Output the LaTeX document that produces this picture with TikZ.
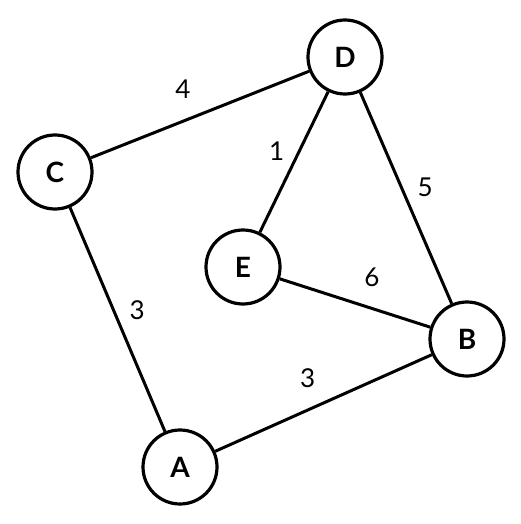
\documentclass[tikz,border=0pt]{standalone}
\usepackage{fontspec}
\setmainfont{Lato}
\tikzset{
  graph vertex/.style={circle,draw=black,line width=3.2pt,fill=white,
    minimum size=74pt,inner sep=0pt,font=\fontsize{28}{30}\selectfont\bfseries},
  graph edge/.style={line width=3pt,draw=black},
  graph weight/.style={font=\fontsize{26}{30}\selectfont,inner sep=0pt}
}

\begin{document}
\begin{tikzpicture}[x=1pt,y=-1pt]
  \useasboundingbox (0,0) rectangle (521,524);
  \node[graph vertex] (D) at (345,57) {D};
  \node[graph vertex] (C) at (55,172) {C};
  \node[graph vertex] (E) at (243,267) {E};
  \node[graph vertex] (B) at (467,339) {B};
  \node[graph vertex] (A) at (180,467) {A};

  % weighted edges
  \draw[graph edge] (C) -- (D)
    node[graph weight,pos=0.472,shift={(-11,-28)}] {4};
  \draw[graph edge] (D) -- (E)
    node[graph weight,pos=0.489,shift={(-18,-9)}] {1};
  \draw[graph edge] (D) -- (B)
    node[graph weight,pos=0.492,shift={(20,-9)}] {5};
  \draw[graph edge] (E) -- (B)
    node[graph weight,pos=0.540,shift={(11,-28)}] {6};
  \draw[graph edge] (C) -- (A)
    node[graph weight,pos=0.496,shift={(20,-8)}] {3};
  \draw[graph edge] (A) -- (B)
    node[graph weight,pos=0.482,shift={(-12,-27)}] {3};
\end{tikzpicture}
\end{document}
